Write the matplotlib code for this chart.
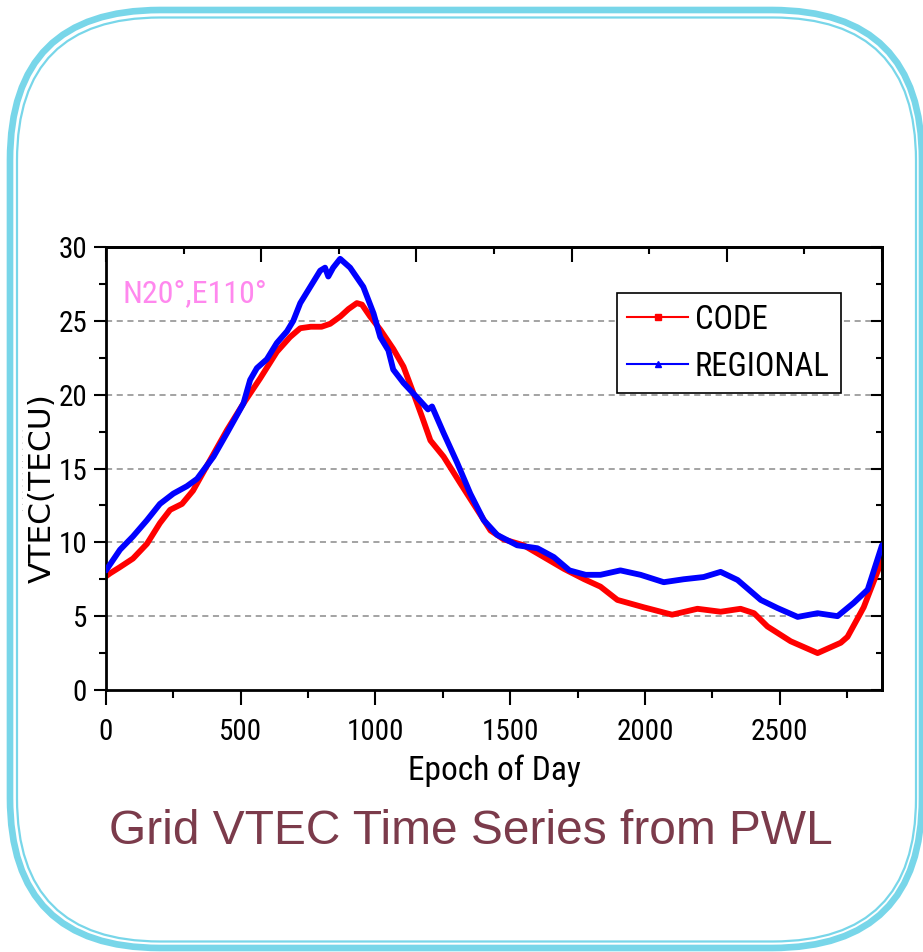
import matplotlib
matplotlib.use('Agg')
import matplotlib.pyplot as plt
from matplotlib.patches import FancyBboxPatch
from matplotlib.lines import Line2D
from matplotlib import font_manager

# CODE grid VTEC (red)
code_x = [0, 15, 50, 100, 152, 200, 238, 282, 323, 375, 449, 510, 572, 634, 683,
          721, 760, 800, 832, 870, 900, 931, 950, 980, 1018, 1066, 1104, 1141, 1173,
          1204, 1253, 1315, 1378, 1427, 1476, 1550, 1625, 1700, 1775, 1835, 1898,
          1996, 2101, 2195, 2281, 2355, 2405, 2455, 2541, 2641, 2727, 2752, 2812, 2880]
code_y = [7.7, 7.9, 8.3, 8.9, 9.9, 11.3, 12.2, 12.6, 13.5, 15.2, 17.6, 19.4, 21.1, 22.9, 23.9,
          24.5, 24.6, 24.6, 24.8, 25.3, 25.8, 26.2, 26.1, 25.3, 24.4, 23.1, 21.9, 20.1, 18.5,
          16.9, 15.8, 14.0, 12.2, 10.8, 10.2, 9.8, 9.0, 8.2, 7.5, 7.0, 6.1,
          5.6, 5.1, 5.5, 5.3, 5.5, 5.2, 4.3, 3.3, 2.5, 3.2, 3.6, 5.6, 8.8]

# REGIONAL grid VTEC (blue)
reg_x = [0, 52, 100, 152, 200, 250, 300, 338, 399, 449, 510, 535, 560, 597, 634, 672,
         695, 721, 758, 795, 813, 825, 843, 869, 906, 955, 993, 1018, 1048, 1066, 1104,
         1155, 1195, 1210, 1253, 1303, 1352, 1402, 1452, 1526, 1601, 1662, 1720, 1780,
         1835, 1909, 1984, 2070, 2144, 2218, 2281, 2344, 2430, 2492, 2567, 2641, 2715,
         2775, 2827, 2880]
reg_y = [8.1, 9.5, 10.4, 11.5, 12.6, 13.3, 13.8, 14.3, 15.8, 17.4, 19.4, 21.0, 21.8, 22.4, 23.5, 24.3,
         25.0, 26.2, 27.3, 28.4, 28.6, 28.0, 28.6, 29.2, 28.6, 27.3, 25.5, 23.9, 23.0, 21.7, 20.8,
         19.8, 19.0, 19.2, 17.4, 15.4, 13.3, 11.5, 10.5, 9.8, 9.6, 9.0, 8.1, 7.8,
         7.8, 8.1, 7.8, 7.3, 7.5, 7.65, 8.0, 7.45, 6.1, 5.55, 4.95, 5.2, 5.0,
         5.9, 6.8, 9.8]

xticks = [0, 500, 1000, 1500, 2000, 2500]
yticks = [0, 5, 10, 15, 20, 25, 30]
top_ticks = [0, 576, 1152, 1728, 2304, 2880]

# look for a narrow / condensed face, else plain Liberation Sans
narrow_path = None
for key in ['LiberationSansNarrow-Regular', 'RobotoCondensed-Regular', 'Roboto_Condensed-Regular',
            'OpenSans_Condensed-Regular', 'OpenSans-CondensedRegular', 'DejaVuSansCondensed.']:
    for f in font_manager.fontManager.ttflist:
        if key in f.fname:
            narrow_path = f.fname
            break
    if narrow_path:
        break
if narrow_path:
    def nfont(size):
        return font_manager.FontProperties(fname=narrow_path, size=size)
    scale = 1.0
else:
    def nfont(size):
        return font_manager.FontProperties(family='Liberation Sans', size=size)
    scale = 0.84

fig = plt.figure(figsize=(9.23, 9.52), dpi=100)

# rounded frame around everything
bg = fig.add_axes([0, 0, 1, 1])
bg.set_xlim(0, 923)
bg.set_ylim(952, 0)
bg.axis('off')
frame_col = '#78d6e9'
bg.add_patch(FancyBboxPatch((10, 10), 912, 938, boxstyle='round,pad=0,rounding_size=150',
                            fill=False, ec=frame_col, lw=4.8))
bg.add_patch(FancyBboxPatch((17, 17.5), 899, 924, boxstyle='round,pad=0,rounding_size=143',
                            fill=False, ec=frame_col, lw=1.6))
bg.text(21, 470, '. . . . . . . . . . . . . .', rotation=90, ha='center', va='center',
        fontsize=7, color='#bbbbbb')

ax = fig.add_axes([106/923, (952-690)/952, 776/923, 443/952])
for yv in yticks[1:-1]:
    ax.axhline(yv, color='#8a8a8a', lw=1.1, ls=(0, (4, 3)), zorder=0)
ax.plot(code_x, code_y, color='#ff0000', lw=4.2, solid_capstyle='round',
        solid_joinstyle='round', zorder=2)
ax.plot(reg_x, reg_y, color='#0000ff', lw=4.2, solid_capstyle='round',
        solid_joinstyle='round', zorder=3)

ax.set_xlim(0, 2880)
ax.set_ylim(0, 30)
ax.set_xticks(xticks)
ax.set_xticks(range(250, 2880, 500), minor=True)
ax.set_yticks(yticks)
ax.set_yticks([2.5 + 5*i for i in range(6)], minor=True)
for s in ax.spines.values():
    s.set_linewidth(2)

ax.tick_params(axis='x', which='major', direction='out', length=11, width=1.5, pad=9)
ax.tick_params(axis='x', which='minor', direction='out', length=6, width=1.5)
ax.tick_params(axis='y', which='major', direction='out', length=8.5, width=1.5, pad=5)
ax.tick_params(axis='y', which='minor', direction='out', length=5, width=1.5)
for lab in ax.get_xticklabels():
    lab.set_fontproperties(nfont(21 * scale))
for lab in ax.get_yticklabels():
    lab.set_fontproperties(nfont(21 * scale))

top = ax.secondary_xaxis('top')
top.set_xticks(top_ticks)
top.set_xticks([288 + 576*i for i in range(5)], minor=True)
top.tick_params(which='major', direction='in', length=11, width=1.5, labeltop=False)
top.tick_params(which='minor', direction='in', length=5, width=1.5)
top.spines['top'].set_linewidth(2)

right = ax.secondary_yaxis('right')
right.set_yticks(yticks)
right.set_yticks([2.5 + 5*i for i in range(6)], minor=True)
right.tick_params(which='major', direction='in', length=8, width=1.5, labelright=False)
right.tick_params(which='minor', direction='in', length=4, width=1.5)
right.spines['right'].set_linewidth(2)

ax.set_xlabel('Epoch of Day', fontproperties=nfont(24 * scale), va='top')
ax.xaxis.set_label_coords(0.5, -0.145)
ax.set_ylabel('VTEC(TECU)', fontsize=22.5, family='DejaVu Sans')
ax.yaxis.set_label_coords(-0.064, 0.455)

ax.text(60, 26.3, 'N20°,E110°', fontproperties=nfont(23 * scale), color='#ff88ee', va='baseline')

handles = [Line2D([], [], color='#ff0000', lw=1.5, marker='s', markersize=5),
           Line2D([], [], color='#0000ff', lw=1.5, marker='^', markersize=5)]
leg = ax.legend(handles, ['CODE', 'REGIONAL'], loc='upper left', bbox_to_anchor=(0.658, 0.896),
                borderaxespad=0, frameon=True, fancybox=False, edgecolor='black',
                prop=nfont(23.5 * scale), handlelength=1.85 / scale, handletextpad=0.22,
                borderpad=0.33, labelspacing=0.45)
leg.get_frame().set_linewidth(1.2)
leg.get_frame().set_alpha(1)

fig.text(471/923, 1 - 832/952, 'Grid VTEC Time Series from PWL', ha='center', va='center',
         fontsize=34.5, color='#7b3b4b', family='Liberation Sans')

fig.savefig('out.png', dpi=100)
